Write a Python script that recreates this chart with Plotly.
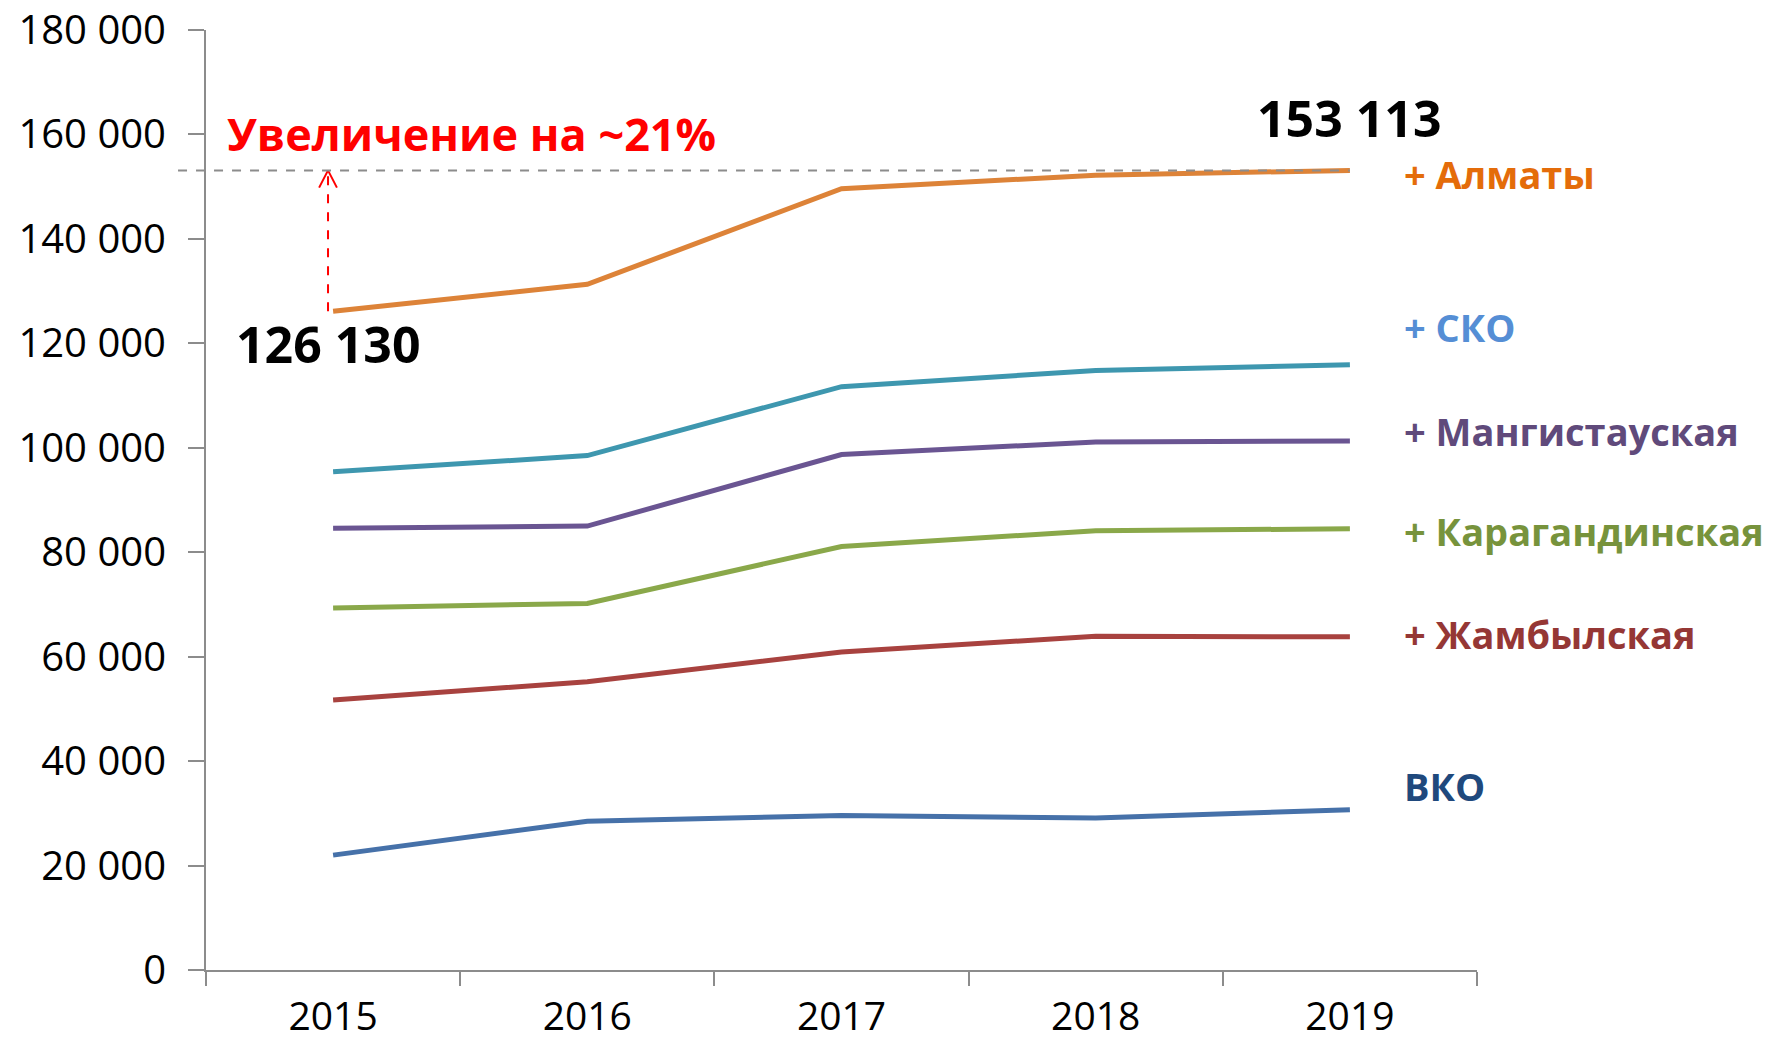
import plotly.graph_objects as go

years = [2015, 2016, 2017, 2018, 2019]
almaty = [126130, 131300, 149600, 152200, 153113]
sko = [95400, 98500, 111700, 114800, 115900]
mangistau = [84600, 85000, 98700, 101100, 101300]
karaganda = [69300, 70200, 81100, 84100, 84500]
zhambyl = [51700, 55200, 60900, 63900, 63800]
vko = [22000, 28500, 29600, 29100, 30700]

series = [
    ("Алматы", almaty, "#DD8338"),
    ("СКО", sko, "#3E97AF"),
    ("Мангистауская", mangistau, "#6A5592"),
    ("Карагандинская", karaganda, "#8AA84A"),
    ("Жамбылская", zhambyl, "#A8423F"),
    ("ВКО", vko, "#4671A9"),
]

labels = [
    ("+ Алматы", 152400, "#E46C0A"),
    ("+ СКО", 123200, "#558ED5"),
    ("+ Мангистауская", 103300, "#604A7B"),
    ("+ Карагандинская", 84000, "#77933C"),
    ("+ Жамбылская", 64400, "#953735"),
    ("ВКО", 35300, "#1F497D"),
]

FONT = "Open Sans"
fig = go.Figure()
for name, vals, col in series:
    fig.add_trace(go.Scatter(x=years, y=vals, mode="lines", name=name,
                             line=dict(color=col, width=5), showlegend=False,
                             hoverinfo="x+y"))

# red dashed arrow from 2015 value up to 2019 level
ax_x = 2014.98
fig.add_trace(go.Scatter(x=[ax_x, ax_x], y=[almaty[0], almaty[-1]], mode="lines",
                         line=dict(color="#FF0000", width=2, dash="dash"),
                         showlegend=False, hoverinfo="skip"))
fig.add_trace(go.Scatter(x=[ax_x - 0.035, ax_x, ax_x + 0.035],
                         y=[almaty[-1] - 3300, almaty[-1], almaty[-1] - 3300], mode="lines",
                         line=dict(color="#FF0000", width=2),
                         showlegend=False, hoverinfo="skip"))

# gray dashed reference line
fig.add_shape(type="line", xref="paper", yref="y", x0=-0.022, x1=0.9,
              y0=almaty[-1], y1=almaty[-1],
              line=dict(color="#8C8C8C", width=2, dash="dash"))

for text, yv, col in labels:
    fig.add_annotation(xref="paper", yref="y", x=0.941, y=yv, text=f"<b>{text}</b>",
                       showarrow=False, xanchor="left", yanchor="middle",
                       font=dict(family=FONT, size=38, color=col))

fig.add_annotation(x=2019, y=163100, text="<b>153 113</b>", showarrow=False,
                   xanchor="center", yanchor="middle",
                   font=dict(family=FONT, size=50, color="#000000"))
fig.add_annotation(x=2014.98, y=119800, text="<b>126 130</b>", showarrow=False,
                   xanchor="center", yanchor="middle",
                   font=dict(family=FONT, size=50, color="#000000"))
fig.add_annotation(x=2014.575, y=160100, text="<b>Увеличение на ~21%</b>", showarrow=False,
                   xanchor="left", yanchor="middle",
                   font=dict(family=FONT, size=45, color="#FF0000"))

fig.update_layout(
    width=1785, height=1049,
    margin=dict(l=206, r=308, t=30, b=79),
    plot_bgcolor="white", paper_bgcolor="white",
    font=dict(family=FONT, size=40, color="#000000"),
    xaxis=dict(range=[2014.5, 2019.5], tickvals=years, ticktext=[str(y) for y in years],
               ticks="", showgrid=False, zeroline=False, showline=True, automargin=False,
               linecolor="#8C8C8C", linewidth=2, ticklabelstandoff=11,
               tickfont=dict(family=FONT, size=39),
               minor=dict(tickvals=[2014.5, 2015.5, 2016.5, 2017.5, 2018.5, 2019.5],
                          ticks="outside", ticklen=14, tickcolor="#8C8C8C", tickwidth=2)),
    yaxis=dict(range=[0, 180000], tickvals=list(range(0, 180001, 20000)),
               ticktext=["0"] + [f"{v // 1000} 000" for v in range(20000, 180001, 20000)],
               ticks="outside", ticklen=16, tickcolor="#8C8C8C", tickwidth=2,
               showgrid=False, zeroline=False, showline=True, automargin=False,
               ticklabeloverflow="allow",
               linecolor="#8C8C8C", linewidth=2, ticklabelstandoff=14,
               tickfont=dict(family=FONT, size=40)),
)

fig.write_html("out.html")
